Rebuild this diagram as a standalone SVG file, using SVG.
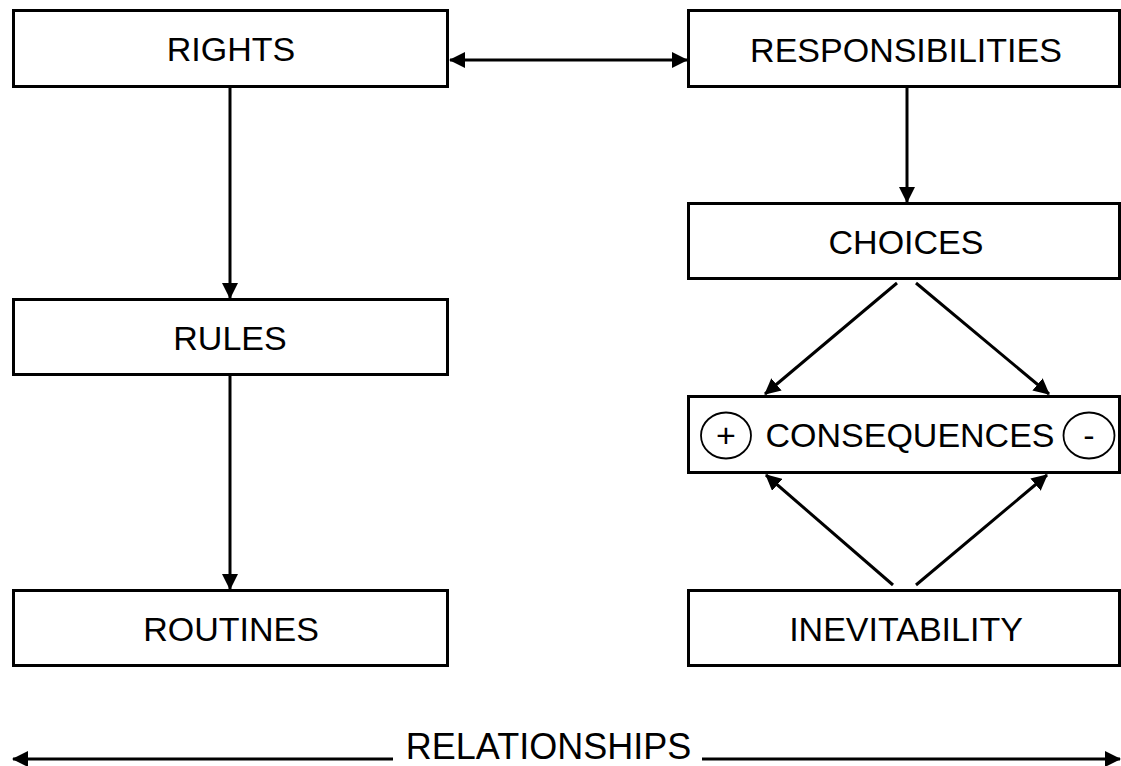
<svg xmlns="http://www.w3.org/2000/svg" width="1121" height="766" viewBox="0 0 1121 766">
<defs>
<style>
.box{fill:#fff;stroke:#000;stroke-width:3}
.lbl{font-family:"Liberation Sans",Arial,sans-serif;font-size:34px;fill:#000;text-anchor:middle}
.big{font-size:36px}
.c{fill:none;stroke:#000;stroke-width:3}
.circ{fill:#fff;stroke:#000;stroke-width:1.8}
</style>
<marker id="ah" markerUnits="userSpaceOnUse" markerWidth="16" markerHeight="16" refX="15" refY="8" orient="auto-start-reverse" viewBox="0 0 16 16">
<path d="M0,0 L16,8 L0,16 z" fill="#000"/>
</marker>
</defs>
<rect width="1121" height="766" fill="#fff"/>
<g id="connectors">
<line class="c" x1="450" y1="60" x2="687" y2="60" marker-start="url(#ah)" marker-end="url(#ah)"/>
<line class="c" x1="230" y1="88" x2="230" y2="298" marker-end="url(#ah)"/>
<line class="c" x1="230" y1="376" x2="230" y2="589" marker-end="url(#ah)"/>
<line class="c" x1="907" y1="88" x2="907" y2="202" marker-end="url(#ah)"/>
<line class="c" x1="897" y1="283" x2="765" y2="394" marker-end="url(#ah)"/>
<line class="c" x1="916" y1="283" x2="1049" y2="394" marker-end="url(#ah)"/>
<line class="c" x1="893" y1="585" x2="766" y2="475" marker-end="url(#ah)"/>
<line class="c" x1="916" y1="585" x2="1047" y2="475" marker-end="url(#ah)"/>
<line class="c" x1="393" y1="759" x2="13" y2="759" marker-end="url(#ah)"/>
<line class="c" x1="702" y1="759" x2="1120" y2="759" marker-end="url(#ah)"/>
</g>
<g id="rights"><rect class="box" x="13.5" y="10.5" width="434" height="76"/><text class="lbl" x="231" y="61">RIGHTS</text></g>
<g id="responsibilities"><rect class="box" x="688.5" y="10.5" width="431" height="76"/><text class="lbl" x="906" y="62">RESPONSIBILITIES</text></g>
<g id="rules"><rect class="box" x="13.5" y="299.5" width="434" height="75"/><text class="lbl" x="230" y="350">RULES</text></g>
<g id="routines"><rect class="box" x="13.5" y="590.5" width="434" height="75"/><text class="lbl" x="231" y="641">ROUTINES</text></g>
<g id="choices"><rect class="box" x="688.5" y="203.5" width="431" height="75"/><text class="lbl" x="906" y="254">CHOICES</text></g>
<g id="consequences"><rect class="box" x="688.5" y="396.5" width="431" height="76"/>
<ellipse class="circ" cx="726" cy="435.5" rx="25" ry="23"/><text class="lbl" x="726" y="447">+</text>
<ellipse class="circ" cx="1089" cy="435.5" rx="25.5" ry="23"/><text class="lbl" x="1089" y="447">-</text>
<text class="lbl" x="910" y="447">CONSEQUENCES</text></g>
<g id="inevitability"><rect class="box" x="688.5" y="590.5" width="431" height="75"/><text class="lbl" x="906" y="641">INEVITABILITY</text></g>
<g id="relationships"><text class="lbl big" x="548.5" y="759">RELATIONSHIPS</text></g>
</svg>
